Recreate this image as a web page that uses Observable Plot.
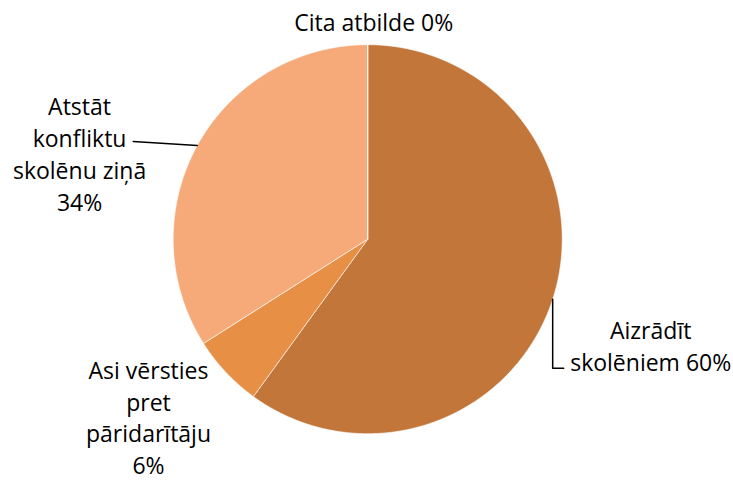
<!DOCTYPE html>
<html>
<head>
<meta charset="utf-8">
<script src="https://cdn.jsdelivr.net/npm/d3@7"></script>
<script src="https://cdn.jsdelivr.net/npm/@observablehq/plot@0.6"></script>
<style>
  html, body { margin: 0; padding: 0; background: #ffffff; }
  #chart svg { display: block; }
</style>
</head>
<body>
<div id="chart"></div>
<script>
// ---- data ----
const categories = ["Aizrādīt skolēniem", "Asi vērsties pret pāridarītāju", "Atstāt konfliktu skolēnu ziņā", "Cita atbilde"];
const values = [60, 6, 34, 0];
const labelTexts = ["Aizrādīt\nskolēniem 60%", "Asi vērsties\npret\npāridarītāju\n6%", "Atstāt\nkonfliktu\nskolēnu ziņā\n34%", "Cita atbilde 0%"];
const colors = ["#C3763A", "#E88F46", "#F6AA7A", "#F4B183"];

// ---- layout (styles, not data) ----
const W = 733, H = 481;
const R = 194.5; // pie radius in px
const cx = 367.2, cy = 238.7;
const FS = 23;
// label block centre offsets from the slice's outer mid-point, px
const labelOffsets = [
  {dx: 98, dy: 45.5},
  {dx: -77.4, dy: 44},
  {dx: -117.7, dy: 7.5},
  {dx: 6, dy: -24}
];
// per-label line height, px
const labelLineHeights = [32, 31.5, 32, 32];
// leader line bends relative to the slice mid-point, px (x right, y down)
const leaderBends = [
  [[0, 0], [0, 69], [11, 69]],
  null,
  [[0, 0], [-64, -4]],
  null
];

const slices = d3.pie().sort(null).value(d => d)(values);

const polys = slices.flatMap((s, i) => {
  const span = s.endAngle - s.startAngle;
  const n = Math.max(2, Math.ceil(span / 0.005));
  const pts = [{k: categories[i], x: 0, y: 0}];
  for (let j = 0; j <= n; j++) {
    const a = s.startAngle + span * j / n;
    pts.push({k: categories[i], x: Math.sin(a), y: Math.cos(a)});
  }
  pts.push({k: categories[i], x: 0, y: 0});
  return pts;
});

const anchors = slices.map((s, i) => {
  const a = (s.startAngle + s.endAngle) / 2;
  return {k: categories[i], ax: Math.sin(a), ay: Math.cos(a), text: labelTexts[i]};
});

const labels = anchors.map((d, i) => ({
  text: d.text,
  lh: labelLineHeights[i],
  x: d.ax + labelOffsets[i].dx / R,
  y: d.ay - labelOffsets[i].dy / R
}));

const leaders = anchors.flatMap((d, i) => {
  const b = leaderBends[i];
  if (!b) return [];
  return b.map(([px, py]) => ({k: d.k, x: d.ax + px / R, y: d.ay - py / R}));
});

const chart = Plot.plot({
  width: W,
  height: H,
  marginLeft: cx - R,
  marginRight: W - (cx + R),
  marginTop: cy - R,
  marginBottom: H - (cy + R),
  x: {domain: [-1, 1], axis: null},
  y: {domain: [-1, 1], axis: null},
  color: {domain: categories, range: colors},
  style: {fontFamily: "'Open Sans', Lato, sans-serif", background: "#ffffff"},
  marks: [
    Plot.line(polys, {
      x: "x", y: "y", z: "k", fill: "k",
      stroke: "#ffffff", strokeWidth: 1, strokeOpacity: 0.6, curve: "linear"
    }),
    Plot.line(leaders, {x: "x", y: "y", z: "k", stroke: "#000000", strokeWidth: 1.5, curve: "linear"}),
    ...labels.map(l => Plot.text([l], {
      x: "x", y: "y", text: "text",
      fontSize: FS, lineHeight: l.lh / FS, lineAnchor: "middle", textAnchor: "middle",
      fill: "#000000"
    }))
  ]
});

document.getElementById("chart").appendChild(chart);
</script>
</body>
</html>
